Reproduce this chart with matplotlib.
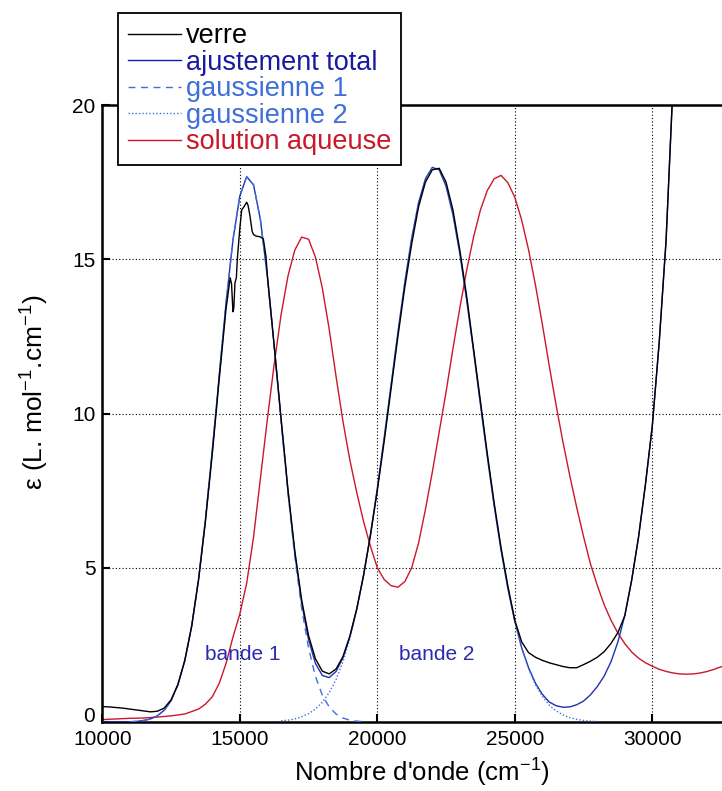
import numpy as np
import matplotlib
matplotlib.use('Agg')
import matplotlib.pyplot as plt

# --- data ---
# fit curves are sampled every 250 cm-1
wn_total = list(range(10000, 31001, 250))
eps_total = [0.0, 0.0, 0.0, 0.0, 0.01, 0.02, 0.05, 0.10,
             0.20, 0.38, 0.69, 1.21, 1.99, 3.12, 4.64, 6.56, 8.81, 11.22,
             13.59, 15.62, 17.05, 17.68, 17.41, 16.28, 14.46, 12.19, 9.80, 7.49,
             5.46, 3.85, 2.67, 1.90, 1.51, 1.44, 1.64, 2.08, 2.75, 3.65,
             4.76, 6.07, 7.57, 9.21, 10.92, 12.63, 14.25, 15.68, 16.83, 17.61,
             17.98, 17.90, 17.37, 16.45, 15.19, 13.68, 12.02, 10.30, 8.60, 7.01,
             5.57, 4.32, 3.27, 2.41, 1.76, 1.26, 0.90, 0.65, 0.53, 0.48,
             0.49, 0.56, 0.68, 0.88, 1.15, 1.49, 1.96, 2.60, 3.45, 4.60,
             6.00, 7.70, 9.60, 12.30, 15.60, 20.60, 26.00]

wn_g1 = list(range(11000, 19501, 250))
eps_g1 = [0.01, 0.02, 0.05, 0.10, 0.20, 0.38, 0.69, 1.21, 1.99, 3.12,
          4.64, 6.56, 8.81, 11.22, 13.59, 15.62, 17.05, 17.68, 17.41, 16.28,
          14.46, 12.19, 9.76, 7.43, 5.36, 3.68, 2.40, 1.48, 0.87, 0.49,
          0.26, 0.13, 0.06, 0.03, 0.01]

wn_g2 = list(range(16500, 28001, 250))
eps_g2 = [0.04, 0.06, 0.10, 0.17, 0.27, 0.42, 0.64, 0.95, 1.38, 1.95,
          2.69, 3.62, 4.75, 6.07, 7.57, 9.21, 10.92, 12.63, 14.25, 15.68,
          16.83, 17.61, 17.98, 17.90, 17.37, 16.45, 15.19, 13.68, 12.02, 10.30,
          8.60, 7.01, 5.57, 4.32, 3.26, 2.40, 1.73, 1.21, 0.83, 0.55,
          0.36, 0.23, 0.14, 0.09, 0.05, 0.03, 0.02]

wn_red = [10000, 10500, 11000, 11500, 12000, 12500, 13000, 13500, 13750, 14000,
          14250, 14500, 14750, 15000, 15250, 15500, 15750, 16000, 16250, 16500,
          16750, 17000, 17250, 17500, 17750, 18000, 18250, 18500, 18750, 19000,
          19250, 19500, 19750, 20000, 20250, 20500, 20750, 21000, 21250, 21500,
          21750, 22000, 22250, 22500, 22750, 23000, 23250, 23500, 23750, 24000,
          24250, 24500, 24750, 25000, 25250, 25500, 25750, 26000, 26250, 26500,
          26750, 27000, 27250, 27500, 27750, 28000, 28250, 28500, 28750, 29000,
          29250, 29500, 29750, 30000, 30250, 30500, 30750, 31000, 31250, 31500,
          31750, 32000, 32250, 32500, 32750]
eps_red = [0.08, 0.10, 0.12, 0.13, 0.16, 0.20, 0.26, 0.42, 0.58, 0.82,
           1.25, 1.90, 2.75, 3.50, 4.50, 6.00, 7.90, 9.80, 11.60, 13.20,
           14.45, 15.30, 15.72, 15.65, 15.07, 14.07, 12.74, 11.20, 9.75, 8.50,
           7.45, 6.50, 5.70, 5.00, 4.62, 4.42, 4.37, 4.55, 5.00, 5.80,
           6.89, 8.10, 9.40, 10.70, 12.10, 13.42, 14.65, 15.72, 16.60, 17.23,
           17.61, 17.72, 17.48, 17.01, 16.27, 15.31, 14.17, 12.90, 11.56, 10.28,
           9.08, 7.98, 6.96, 6.01, 5.13, 4.43, 3.80, 3.30, 2.88, 2.54,
           2.27, 2.07, 1.92, 1.81, 1.71, 1.64, 1.59, 1.56, 1.55, 1.56,
           1.59, 1.64, 1.71, 1.79, 1.87]

wn_verre = [10000, 10250, 10500, 10750, 11000, 11250, 11500, 11750, 12000, 12250,
            12500, 12750, 13000, 13250, 13500, 13750, 14000, 14250, 14500, 14650,
            14700, 14750, 14780, 14825, 14875, 14909, 15000, 15069, 15150, 15250,
            15300, 15371, 15450, 15500, 15600, 15735, 15855, 15950, 16000, 16250,
            16500, 16750, 17000, 17250, 17500, 17750, 18000, 18250, 18500, 18750,
            19000, 19250, 19500, 19750, 20000, 20250, 20500, 20750, 21000, 21250,
            21500, 21750, 22000, 22250, 22500, 22750, 23000, 23250, 23500, 23750,
            24000, 24250, 24500, 24750, 25000, 25250, 25500, 25750, 26000, 26250,
            26500, 26750, 27000, 27250, 27500, 27750, 28000, 28250, 28500, 28750,
            29000, 29250, 29500, 29750, 30000, 30250, 30500, 30750]
eps_verre = [0.50, 0.49, 0.47, 0.45, 0.42, 0.39, 0.36, 0.33, 0.35, 0.45,
             0.72, 1.22, 2.00, 3.10, 4.60, 6.50, 8.70, 11.10, 13.40, 14.40,
             14.20, 13.30, 13.40, 14.24, 14.40, 15.00, 16.00, 16.60, 16.70, 16.85,
             16.75, 16.40, 15.90, 15.80, 15.75, 15.73, 15.66, 15.10, 14.50, 12.20,
             9.85, 7.55, 5.55, 3.95, 2.80, 2.05, 1.65, 1.56, 1.72, 2.12,
             2.78, 3.66, 4.75, 6.05, 7.50, 9.10, 10.80, 12.50, 14.10, 15.50,
             16.70, 17.50, 17.90, 17.95, 17.50, 16.60, 15.30, 13.80, 12.10, 10.40,
             8.70, 7.10, 5.65, 4.40, 3.30, 2.60, 2.25, 2.10, 2.00, 1.92,
             1.86, 1.80, 1.76, 1.76, 1.86, 1.97, 2.10, 2.28, 2.55, 2.90,
             3.45, 4.60, 6.00, 7.70, 9.60, 12.30, 15.60, 20.60]

x_ticks = [10000, 15000, 20000, 25000, 30000]
y_ticks = [0, 5, 10, 15, 20]
labels = ["verre", "ajustement total", "gaussienne 1", "gaussienne 2", "solution aqueuse"]
bands = [("bande 1", 15100, 2.2), ("bande 2", 22150, 2.2)]

c_verre = "black"
c_total = "#2030b0"
c_gauss = "#3f6fd8"
c_red = "#c8182a"

plt.rcParams['font.family'] = ['Liberation Sans', 'DejaVu Sans']
plt.rcParams['mathtext.default'] = 'regular'

fig = plt.figure(figsize=(7.22, 7.91), dpi=100)
ax = fig.add_axes([0.1417, 0.0872, 0.8608, 0.7800])

l_red, = ax.plot(wn_red, eps_red, color=c_red, lw=1.0, zorder=2)
l_total, = ax.plot(wn_total, eps_total, color=c_total, lw=1.0, zorder=3)
l_g1, = ax.plot(wn_g1, eps_g1, color=c_gauss, lw=1.0, ls=(0, (5, 4)), zorder=4)
l_g2, = ax.plot(wn_g2, eps_g2, color=c_gauss, lw=1.0, ls=(0, (1, 1.5)), zorder=4)
l_verre, = ax.plot(wn_verre, eps_verre, color=c_verre, lw=1.0, zorder=5)

for txt, x, y in bands:
	ax.text(x, y, txt, color="#2a2ab0", fontsize=15, ha='center', va='center')

ax.set_xlim(10000, 32600)
ax.set_ylim(0, 20)
ax.set_xticks(x_ticks)
ax.set_xticklabels([str(t) for t in x_ticks])
ax.set_yticks(y_ticks)
ax.set_yticklabels([str(t) for t in y_ticks])
ax.tick_params(direction='in', length=6, width=1.5, labelsize=15, pad=6)
ax.tick_params(axis='y', pad=5)
# the "0" sits just above "10000" in the original
ax.get_yticklabels()[0].set_verticalalignment('baseline')
ax.grid(True, color='black', linestyle=(0, (1, 2)), linewidth=0.8)
for s in ax.spines.values():
	s.set_linewidth(1.8)

ax.set_xlabel("Nombre d'onde (cm$^{-1}$)", fontsize=18.5)
ax.xaxis.set_label_coords(0.514, -0.056)
ax.set_ylabel("ε (L. mol$^{-1}$.cm$^{-1}$)", fontsize=19)
ax.yaxis.set_label_coords(-0.0825, 0.535)

leg = fig.legend([l_verre, l_total, l_g1, l_g2, l_red], labels,
	loc='upper left', bbox_to_anchor=(118 / 722, 1 - 13 / 791),
	fontsize=19.5, frameon=True, fancybox=False, framealpha=1,
	edgecolor='black', handlelength=1.95, handletextpad=0.18,
	labelspacing=0.02, borderpad=0.37, borderaxespad=0,
	labelcolor=[c_verre, "#1a1aa0", c_gauss, c_gauss, c_red])
leg.get_frame().set_linewidth(1.3)
leg.get_lines()[1].set_color("#1a1aa0")

fig.savefig("out.png", dpi=100)
